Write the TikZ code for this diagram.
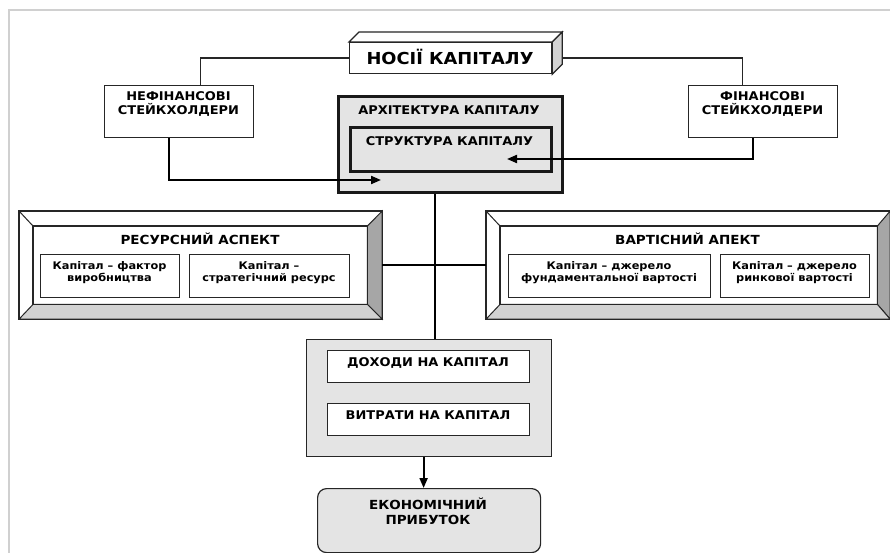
\documentclass[tikz,border=0pt]{standalone}
\usepackage{fontspec}
\setmainfont{DejaVu Sans}[FakeStretch=1.08]
\usetikzlibrary{arrows.meta}
\definecolor{panel}{HTML}{E4E4E4}
\definecolor{bevR}{HTML}{A6A6A6}
\definecolor{bevB}{HTML}{D2D2D2}
\definecolor{frameC}{HTML}{D0D0D0}
\tikzset{
  hdr/.style={font=\bfseries\fontsize{12}{14.5}\selectfont, align=center, inner sep=0pt},
  big/.style={font=\bfseries\fontsize{16.5}{18}\selectfont, align=center, inner sep=0pt},
  sml/.style={font=\bfseries\fontsize{10.5}{12}\selectfont, align=center, inner sep=0pt},
  wbox/.style={draw=black!85, fill=white, line width=1.2pt, anchor=north west, inner sep=0pt},
  gbox/.style={draw=black!85, fill=panel, line width=1.2pt, anchor=north west, inner sep=0pt},
  thin/.style={draw=black!85, line width=1.2pt},
  thick/.style={draw=black, line width=2pt},
  tip/.style={-{Triangle[length=10pt,width=8pt]}},
}
\begin{document}
\begin{tikzpicture}[x=1pt,y=-1pt]
\useasboundingbox (0,0) rectangle (890,553);
% frame
\draw[frameC, line width=1.5pt] (9,553) -- (9,10) -- (890,10);

% Носії капіталу (3D box)
\node[wbox, minimum width=202pt, minimum height=31pt] (nosii) at (349,42) {};
\filldraw[fill=white, draw=black!85, line width=1.2pt] (nosii.north west) -- ++(10,-10) -- ([shift={(10,-10)}]nosii.north east) -- (nosii.north east) -- cycle;
\filldraw[fill=bevB, draw=black!85, line width=1.2pt] (nosii.north east) -- ++(10,-10) -- ([shift={(10,-10)}]nosii.south east) -- (nosii.south east) -- cycle;
\node[big] (nosiiT) at (450,57) {НОСІЇ КАПІТАЛУ};

% stakeholders
\node[wbox, minimum width=149pt, minimum height=52pt] (nefin) at (104,85) {};
\node[hdr] (nefinT) at (178.5,104) {НЕФІНАНСОВІ\\СТЕЙКХОЛДЕРИ};
\node[wbox, minimum width=149pt, minimum height=52pt] (fin) at (688,85) {};
\node[hdr] (finT) at (762.5,104) {ФІНАНСОВІ\\СТЕЙКХОЛДЕРИ};

\draw[thin] (nosii.west) -| ([xshift=21.5pt]nefin.north);
\draw[thin] ([xshift=10pt]nosii.east) -| ([xshift=-20.5pt]fin.north);

% architecture
\node[gbox, line width=3pt, draw=black!90, minimum width=224pt, minimum height=96pt] (arch) at (337,95) {};
\node[hdr] (archT) at (449,110) {АРХІТЕКТУРА КАПІТАЛУ};
\node[gbox, line width=2.6pt, draw=black!90, minimum width=201pt, minimum height=44pt] (struct) at (349,126) {};
\node[hdr] (structT) at (449.5,141.5) {СТРУКТУРА КАПІТАЛУ};

\coordinate (t1) at (381,180);
\coordinate (t2) at (507,159);
\draw[thick, tip] ([xshift=-10.5pt]nefin.south) |- (t1);
\draw[thick, tip] ([xshift=-10.5pt]fin.south) |- (t2);

% bevel boxes
\node[draw=black!85, line width=1.2pt, fill=white, anchor=north west, inner sep=0pt, minimum width=362pt, minimum height=107pt] (resO) at (19,211) {};
\node[anchor=north west, inner sep=0pt, minimum width=334pt, minimum height=78pt] (resI) at (33,226) {};
\node[draw=black!85, line width=1.2pt, fill=white, anchor=north west, inner sep=0pt, minimum width=403pt, minimum height=107pt] (varO) at (486,211) {};
\node[anchor=north west, inner sep=0pt, minimum width=377pt, minimum height=78pt] (varI) at (500,226) {};
\foreach \o/\i in {resO/resI, varO/varI}{
  \filldraw[fill=bevR, draw=black!85, line width=1pt] (\o.north east) -- (\i.north east) -- (\i.south east) -- (\o.south east) -- cycle;
  \filldraw[fill=bevB, draw=black!85, line width=1pt] (\o.south west) -- (\i.south west) -- (\i.south east) -- (\o.south east) -- cycle;
  \draw[black!85, line width=1pt] (\o.north west) -- (\i.north west);
  \draw[black!85, line width=1.2pt] (\i.north west) rectangle (\i.south east);
  \draw[black!85, line width=1.2pt] (\o.north west) rectangle (\o.south east);
}
\node[hdr, font=\bfseries\fontsize{12.5}{14}\selectfont] (resT) at (200,238.5) {РЕСУРСНИЙ АСПЕКТ};
\node[hdr, font=\bfseries\fontsize{12.5}{14}\selectfont] (varT) at (687.5,238.5) {ВАРТІСНИЙ АПЕКТ};

\node[wbox, minimum width=139pt, minimum height=43pt] (r1) at (40,254) {};
\node[sml] (r1T) at (109.5,273) {Капітал – фактор\\виробництва};
\node[wbox, minimum width=160pt, minimum height=43pt] (r2) at (189,254) {};
\node[sml] (r2T) at (269,273) {Капітал –\\стратегічний ресурс};
\node[wbox, minimum width=202pt, minimum height=43pt] (v1) at (508,254) {};
\node[sml] (v1T) at (609,273) {Капітал – джерело\\фундаментальної вартості};
\node[wbox, minimum width=149pt, minimum height=43pt] (v2) at (720,254) {};
\node[sml] (v2T) at (794.5,273) {Капітал – джерело\\ринкової вартості};

% income / costs
\node[gbox, minimum width=245pt, minimum height=117pt] (dohO) at (306,339) {};
\node[wbox, minimum width=202pt, minimum height=32pt] (doh) at (327,350) {};
\node[hdr] (dohT) at (428,362.5) {ДОХОДИ НА КАПІТАЛ};
\node[wbox, minimum width=202pt, minimum height=32pt] (vyt) at (327,403) {};
\node[hdr] (vytT) at (428,415.5) {ВИТРАТИ НА КАПІТАЛ};

% connectors
\draw[line width=1.8pt] (resO.east) -- (varO.west);
\draw[thick] ([xshift=-16pt]arch.south) -- ([xshift=-16pt]arch.south |- dohO.north);

% economic profit
\node[draw=black!85, fill=panel, line width=1.2pt, rounded corners=9pt, anchor=north west, inner sep=0pt, minimum width=223pt, minimum height=64pt] (ekon) at (317,488) {};
\node[hdr, font=\bfseries\fontsize{12.5}{15}\selectfont] (ekonT) at (428,511) {ЕКОНОМІЧНИЙ\\ПРИБУТОК};
\draw[thick, tip] ([xshift=-5.5pt]dohO.south) -- ([xshift=-5.5pt]dohO.south |- ekon.north);
\end{tikzpicture}
\end{document}
